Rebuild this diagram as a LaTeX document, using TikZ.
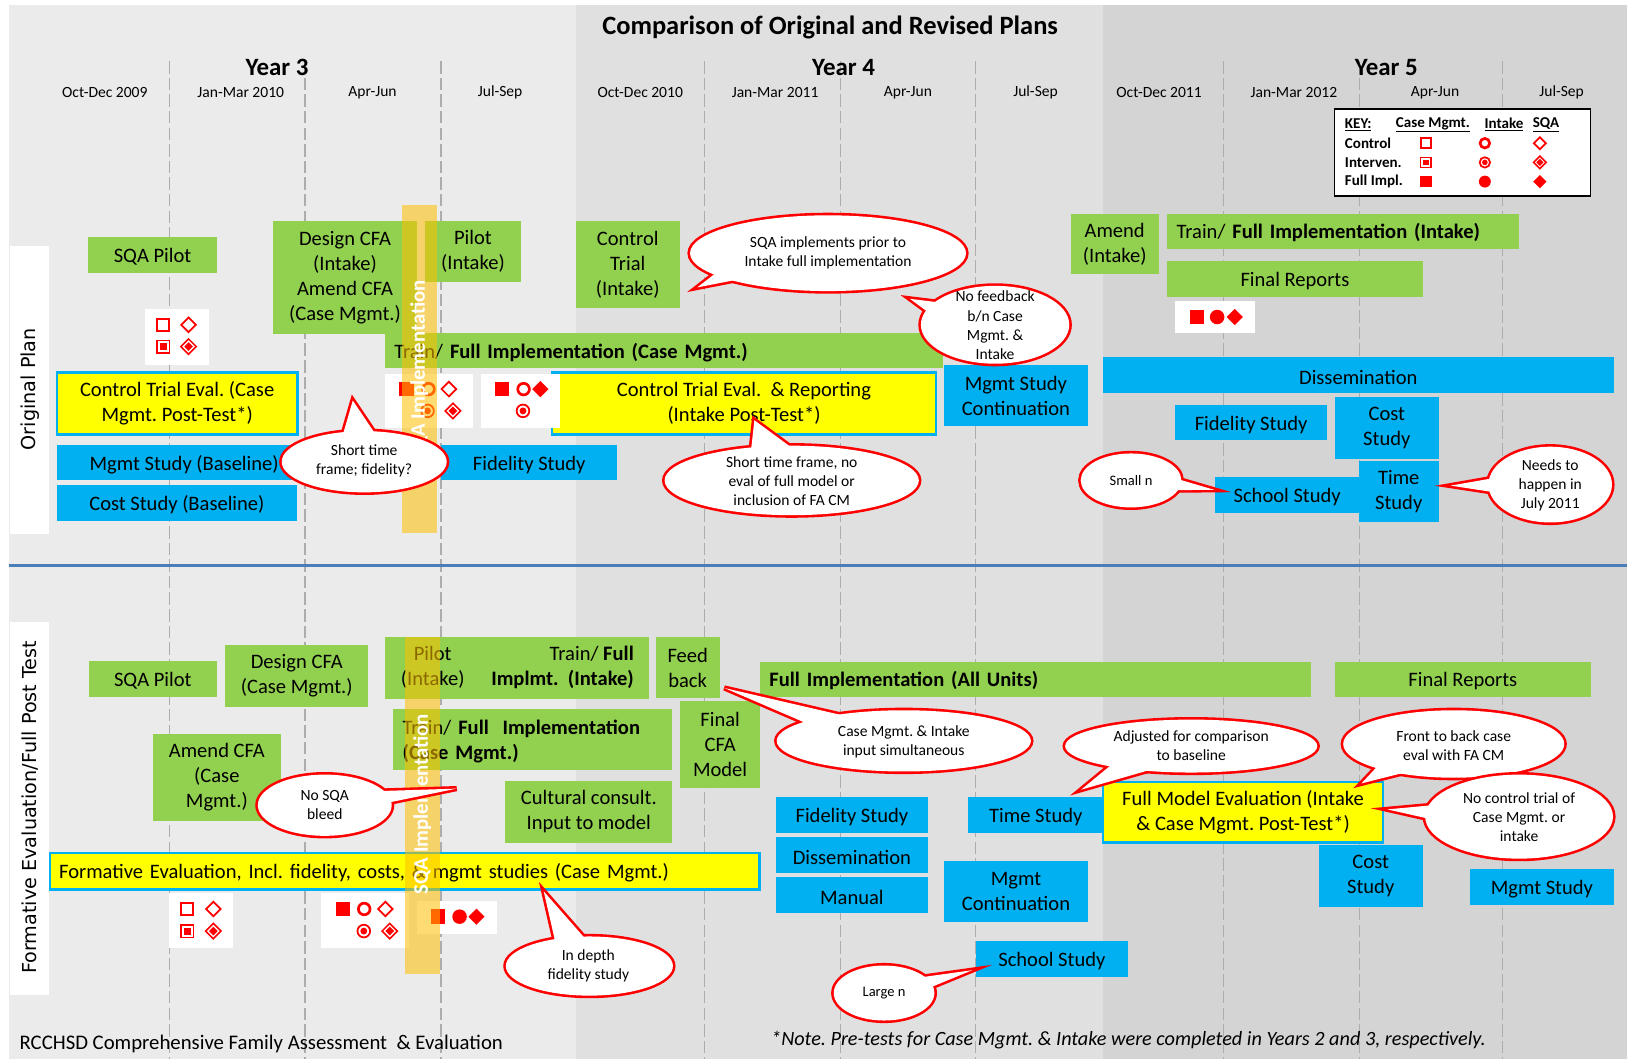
\documentclass[tikz,border=0pt]{standalone}
\usepackage{fontspec}
\setmainfont{Carlito}
\newfontfamily\dejav{DejaVu Sans}
\usetikzlibrary{calc}
\definecolor{grn}{HTML}{92D050}
\definecolor{blu}{HTML}{00B0F0}
\definecolor{yel}{HTML}{FFFF00}
\definecolor{bgA}{HTML}{EBEBEB}
\definecolor{bgB}{HTML}{E0E0E0}
\definecolor{bgC}{HTML}{D4D4D4}
\definecolor{divl}{HTML}{4A7EBB}
\definecolor{dashc}{HTML}{ADADAD}
\definecolor{stripec}{HTML}{FFC000}
\definecolor{redc}{HTML}{FF0000}
\tikzset{
 boxbase/.style={inner sep=0pt, align=center, font=\fontsize{19.8}{24}\selectfont, execute at begin node={\rule{0pt}{18pt}}},
 gbox/.style={boxbase, fill=grn},
 bbox/.style={boxbase, fill=blu},
 ybox/.style={boxbase, fill=yel, draw=blu, line width=2.5pt},
 keybox/.style={inner sep=0pt, fill=white, draw=black, line width=1.2pt},
 dashln/.style={draw=dashc, line width=1.2pt, dash pattern=on 12pt off 4pt},
 qlab/.style={inner sep=0pt, font=\fontsize{15}{18}\selectfont},
 ylab/.style={inner sep=0pt, font=\bfseries\fontsize{24}{28}\selectfont},
 sidelab/.style={inner sep=0pt, rotate=90, font=\dejav\fontsize{18.5}{22}\selectfont},
 stripe/.style={fill=stripec, fill opacity=0.55},
 stripetxt/.style={inner sep=0pt, rotate=90, text=white, font=\bfseries\fontsize{20}{24}\selectfont},
 cstroke/.style={draw=redc, line width=5pt},
 ctext/.style={inner sep=0pt, align=center, font=\fontsize{15}{18.5}\selectfont},
 ctexts/.style={inner sep=0pt, align=center, font=\fontsize{14}{17}\selectfont},
 keytxt/.style={inner sep=0pt, font=\bfseries\fontsize{14.5}{17}\selectfont},
 symst/.style={draw=redc, line width=1.8pt},
}
\newcommand\bx[7]{\pgfmathsetmacro\bxw{#5-#3}\pgfmathsetmacro\bxh{#6-#4}\pgfmathsetmacro\bxcx{(#3+#5)/2}\pgfmathsetmacro\bxcy{(#4+#6)/2}\node[#1, minimum width=\bxw pt, minimum height=\bxh pt] (#2) at (\bxcx,\bxcy) {#7};}
\newcommand\bxl[7]{\pgfmathsetmacro\bxw{#5-#3-18}\pgfmathsetmacro\bxh{#6-#4}\pgfmathsetmacro\bxcx{(#3+#5)/2}\pgfmathsetmacro\bxcy{(#4+#6)/2}\node[#1, align=left, inner xsep=9pt, text width=\bxw pt, minimum height=\bxh pt] (#2) at (\bxcx,\bxcy) {#7};}
\newcommand\callout[9]{%
 \coordinate (#1) at (#2,#3);
 \coordinate (#1-tip) at (#6,#7);
 \coordinate (#1-b1) at ({#2+0.86*#4*cos(#8)},{#3-0.86*#5*sin(#8)});
 \coordinate (#1-b2) at ({#2+0.86*#4*cos(#9)},{#3-0.86*#5*sin(#9)});
 \draw[cstroke] (#1) ellipse[x radius=#4, y radius=#5];
 \draw[cstroke] (#1-b1) -- (#1-tip) -- (#1-b2) -- cycle;
 \fill[white] (#1) ellipse[x radius=#4, y radius=#5];
 \fill[white] (#1-b1) -- (#1-tip) -- (#1-b2) -- cycle;}
\def\ssc{1}
\newcommand\SqO[2]{\begin{scope}[shift={(#1,#2)},scale=\ssc]\draw[symst] (-5.9,-5.9) rectangle (5.9,5.9);\end{scope}}
\newcommand\SqI[2]{\begin{scope}[shift={(#1,#2)},scale=\ssc]\draw[symst,line width=1.5pt] (-6,-6) rectangle (6,6);\fill[redc] (-3.4,-3.4) rectangle (3.4,3.4);\end{scope}}
\newcommand\SqF[2]{\begin{scope}[shift={(#1,#2)},scale=\ssc]\fill[redc] (-6.9,-6.9) rectangle (6.9,6.9);\end{scope}}
\newcommand\CiO[2]{\begin{scope}[shift={(#1,#2)},scale=\ssc]\draw[symst,line width=2.6pt] (0,0) circle[radius=5.6];\end{scope}}
\newcommand\CiI[2]{\begin{scope}[shift={(#1,#2)},scale=\ssc]\draw[symst,line width=1.7pt] (0,0) circle[radius=6.1];\fill[redc] (0,0) circle[radius=3.3];\end{scope}}
\newcommand\CiF[2]{\begin{scope}[shift={(#1,#2)},scale=\ssc]\fill[redc] (0,0) circle[radius=7];\end{scope}}
\newcommand\DiO[2]{\begin{scope}[shift={(#1,#2)},scale=\ssc]\draw[symst,line width=1.7pt] (-7,0)--(0,-7)--(7,0)--(0,7)--cycle;\end{scope}}
\newcommand\DiI[2]{\begin{scope}[shift={(#1,#2)},scale=\ssc]\draw[symst,line width=1.5pt] (-7.4,0)--(0,-7.4)--(7.4,0)--(0,7.4)--cycle;\fill[redc] (-4.2,0)--(0,-4.2)--(4.2,0)--(0,4.2)--cycle;\end{scope}}
\newcommand\DiF[2]{\begin{scope}[shift={(#1,#2)},scale=\ssc]\fill[redc] (-7.8,0)--(0,-7.8)--(7.8,0)--(0,7.8)--cycle;\end{scope}}
\begin{document}
\frenchspacing
\begin{tikzpicture}[x=1pt,y=-1pt]
\useasboundingbox (0,0) rectangle (1568,1021);
\fill[white] (0,0) rectangle (1568,1021);
% backgrounds
\fill[bgA] (9,5) rectangle (555,1021);
\fill[bgB] (555,5) rectangle (1063,1021);
\fill[bgC] (1063,5) rectangle (1568,1021);
\foreach \xx in {163,294,425,679,810,940,1179,1310,1448} \draw[dashln] (\xx,59) -- (\xx,1021);
\draw[divl, line width=3pt] (9,545) -- (1568,545);
\fill[white] (10,237) rectangle (47,515);
\fill[white] (10,599) rectangle (47,959);
\node[sidelab] (lab1) at (29,375) {Original Plan};
\node[sidelab] (lab2) at (29,778) {Formative Evaluation/Full Post Test};
% header
\node[inner sep=0pt, font=\bfseries\fontsize{25.5}{30}\selectfont] (title) at (800,26) {Comparison of Original and Revised Plans};
\node[ylab] (y3) at (267,65) {Year 3};
\node[ylab] (y4) at (813,65) {Year 4};
\node[ylab] (y5) at (1336,65) {Year 5};
\node[qlab] (q1) at (101,89) {Oct-Dec 2009};
\node[qlab] (q2) at (232,89) {Jan-Mar 2010};
\node[qlab] (q3) at (359,89) {Apr-Jun};
\node[qlab] (q4) at (482,89) {Jul-Sep};
\node[qlab] (q5) at (617,89) {Oct-Dec 2010};
\node[qlab] (q6) at (747,89) {Jan-Mar 2011};
\node[qlab] (q7) at (875,89) {Apr-Jun};
\node[qlab] (q8) at (998,89) {Jul-Sep};
\node[qlab] (q9) at (1117,89) {Oct-Dec 2011};
\node[qlab] (q10) at (1247,89) {Jan-Mar 2012};
\node[qlab] (q11) at (1383,89) {Apr-Jun};
\node[qlab] (q12) at (1505,89) {Jul-Sep};
% key
\bx{keybox}{key}{1286}{105}{1533}{189}{}
\node[keytxt, anchor=west] (kh) at (1296,120) {\underline{KEY:}};
\node[keytxt] (kcm) at (1381,120) {\underline{Case Mgmt.}};
\node[keytxt] (kin) at (1449.5,120) {\underline{Intake}};
\node[keytxt] (ksqa) at (1490,120) {\underline{SQA}};
\node[keytxt, anchor=west] (kr1) at (1296,138) {Control};
\node[keytxt, anchor=west] (kr2) at (1296,156.5) {Interven.};
\node[keytxt, anchor=west] (kr3) at (1296,175) {Full Impl.};
\def\ssc{0.82}
\SqO{1374}{138}\CiO{1431}{138}\DiO{1484}{138}
\SqI{1374}{156.5}\CiI{1431}{156.5}\DiI{1484}{156.5}
\SqF{1374}{175}\CiF{1431}{175}\DiF{1484}{175}
\def\ssc{1}
% ===== Original plan =====
\bx{gbox}{sqa1}{85}{228}{209}{263}{SQA Pilot}
\bx{gbox}{dcfa1}{263}{213}{402}{322}{Design CFA\\(Intake)\\Amend CFA\\(Case Mgmt.)}
\bx{gbox}{pil1}{409.5}{213}{502}{272}{Pilot\\(Intake)}
\bx{gbox}{ctr1}{555}{213}{655}{297}{Control\\Trial\\(Intake)}
\bxl{gbox}{tfi1}{371}{321}{909}{355}{Train/ \textbf{Full Implementation (Case Mgmt.)}}
\bx{gbox}{amd1}{1032}{206}{1116.5}{264.5}{Amend\\(Intake)}
\bxl{gbox}{tfi2}{1125}{206}{1463.5}{239.5}{Train/ \textbf{Full Implementation (Intake)}}
\bx{gbox}{frep1}{1125}{251.5}{1371}{286}{Final Reports}
\bx{ybox}{cte1}{55}{359}{286.5}{418.5}{Control Trial Eval. (Case\\Mgmt. Post-Test*)}
\bx{ybox}{cte2}{532}{359}{902}{418.5}{Control Trial Eval.\ \ \& Reporting\\(Intake Post-Test*)}
\bx{bbox}{mgb1}{55}{429}{300}{463}{Mgmt Study (Baseline)}
\bx{bbox}{csb1}{55}{467.5}{286}{502}{Cost Study (Baseline)}
\bx{bbox}{fid1}{425}{429}{595}{463}{Fidelity Study}
\bx{bbox}{mgc1}{909.5}{352}{1048.5}{411}{Mgmt Study\\Continuation}
\bx{bbox}{dis1}{1063}{344}{1555}{378.5}{Dissemination}
\bx{bbox}{fid2}{1132.5}{390.5}{1279}{424.5}{Fidelity Study}
\bx{bbox}{cst1}{1286.5}{382.5}{1386.5}{442}{Cost\\Study}
\bx{bbox}{sch1}{1171}{459.5}{1310}{494}{School Study}
\bx{bbox}{tim1}{1309.5}{444.5}{1386.5}{503.5}{Time\\Study}
% symbol panels (top)
\fill[white] (140,298) rectangle (201,351.5);
\SqO{157.3}{313}\DiO{181.7}{313}
\SqI{157.3}{334}\DiI{181.7}{334}
\fill[white] (371,360) rectangle (455.5,412);
\SqF{391.7}{375}\CiO{413}{375}\DiO{432.6}{375}
\CiI{412}{396}\DiI{436.5}{396}
\fill[white] (464,360) rectangle (540,412);
\SqF{484}{375}\CiO{504.6}{375}\DiF{520.7}{375}
\CiI{504}{396}
\fill[white] (1132.5,290.5) rectangle (1209,321);
\SqF{1153.3}{305.5}\CiF{1173}{305.5}\DiF{1190}{305.5}
% ===== Formative evaluation =====
\bx{gbox}{sqa2}{85.5}{637}{209}{671.5}{SQA Pilot}
\bx{gbox}{dcfa2}{217}{622}{355}{681}{Design CFA\\(Case Mgmt.)}
\bx{gbox}{ptr2}{371}{614}{625}{673.5}{}
\node[boxbase] (ptr2a) at (417,643) {Pilot\\(Intake)};
\node[boxbase, align=right, anchor=east] (ptr2b) at (611,643) {Train/ \textbf{Full}\\\textbf{Implmt.\ \ (Intake)}};
\bx{gbox}{fdb2}{632}{614}{693.5}{673}{Feed\\back}
\bxl{gbox}{tfi3}{379}{683.5}{648}{742.5}{Train/ \textbf{Full\ \ Implementation}\\\textbf{(Case Mgmt.)}}
\bx{gbox}{fcfa2}{655.5}{676}{732.5}{759.5}{Final\\CFA\\Model}
\bx{gbox}{cul2}{487}{753}{648}{812}{Cultural consult.\\Input to model}
\bx{gbox}{acfa2}{147}{707}{271}{791}{Amend CFA\\(Case\\Mgmt.)}
\bxl{gbox}{fiau2}{732.5}{637.5}{1263.5}{671.5}{\textbf{Full Implementation (All Units)}}
\bx{gbox}{frep2}{1286.5}{637.5}{1533}{671.5}{Final Reports}
\bxl{ybox}{fev2}{48}{822}{732}{857}{Formative Evaluation, Incl. fidelity, costs, \& mgmt studies (Case Mgmt.)}
\bx{bbox}{fid3}{748}{768}{894}{802.5}{Fidelity Study}
\bx{bbox}{dis3}{748}{806.7}{894}{841}{Dissemination}
\bx{bbox}{man3}{748}{845.2}{894}{879.6}{Manual}
\bx{bbox}{tim3}{933}{768}{1063.5}{802.5}{Time Study}
\bx{ybox}{fme3}{1063}{753.5}{1333}{812}{Full Model Evaluation (Intake\\\& Case Mgmt. Post-Test*)}
\bx{bbox}{mgc3}{909.8}{829.8}{1048.5}{889}{Mgmt\\Continuation}
\bx{bbox}{sch3}{940.5}{907}{1087}{941.3}{School Study}
\bx{bbox}{cst3}{1271}{814.4}{1371}{873.8}{Cost\\Study}
\bx{bbox}{mgs3}{1416.7}{837.5}{1555.2}{872.2}{Mgmt Study}
% symbol panels (bottom)
\fill[white] (163,860.6) rectangle (224.6,913.6);
\SqO{180.4}{876}\DiO{205.6}{876}
\SqI{180.4}{897.3}\DiI{205.6}{897.3}
\fill[white] (309,860.6) rectangle (394,913.6);
\SqF{330.3}{876}\CiO{351}{876}\DiO{371.4}{876}
\CiI{350.6}{897.3}\DiI{375.6}{897.3}
\fill[white] (402,868) rectangle (479,900);
\SqF{422.4}{883.4}\CiF{442.9}{883.4}\DiF{459.2}{883.4}
% SQA implementation stripes
\fill[stripe] (387,198) rectangle (421,514);
\node[stripetxt] (sqaimp1) at (404,357) {SQA Implementation};
\fill[stripe] (390,614) rectangle (424,939);
\node[stripetxt] (sqaimp2) at (407,775) {SQA Implementation};
% callouts (top)
\callout{c1}{798}{244}{133}{36.5}{672}{277}{207}{228}
\node[ctext] (c1t) at (798,244) {SQA implements prior to\\Intake full implementation};
\callout{c2}{959}{313}{71.5}{37.5}{877}{288}{140}{165}
\node[ctext] (c2t) at (959,313.5) {No feedback\\b/n Case\\Mgmt. \&\\Intake};
\callout{c3}{351}{445}{79.5}{29.5}{340}{386}{108}{80}
\node[ctext] (c3t) at (351,444) {Short time\\frame; fidelity?};
\callout{c4}{763}{463}{122.5}{33.5}{727}{405}{112}{88}
\node[ctext] (c4t) at (763,463.5) {Short time frame, no\\eval of full model or\\inclusion of FA CM};
\callout{c5}{1090}{463}{48.5}{26}{1170}{472}{6}{-25}
\node[ctexts] (c5t) at (1090,463) {Small n};
\callout{c6}{1494}{467}{59.5}{36.5}{1398}{468}{167}{195}
\node[ctext] (c6t) at (1494,467.5) {Needs to\\happen in\\July 2011};
% callouts (bottom)
\callout{c7}{313}{776}{64.5}{29.5}{440}{760}{32}{3}
\node[ctext] (c7t) at (313,776) {No SQA\\bleed};
\callout{c8}{871}{714}{122.5}{29.5}{698}{663}{146}{118}
\node[ctext] (c8t) at (871,715) {Case Mgmt. \& Intake\\input simultaneous};
\callout{c9}{1148}{719}{121.5}{25.5}{1042}{761}{225}{252}
\node[ctext] (c9t) at (1148,718.5) {Adjusted for comparison\\to baseline};
\callout{c10}{1401}{717}{106.5}{32.5}{1312}{755}{220}{245}
\node[ctext] (c10t) at (1401,718.5) {Front to back case\\eval with FA CM};
\callout{c11}{1464}{787}{90.5}{40.5}{1337}{780}{160}{187}
\node[ctext] (c11t) at (1464,787.5) {No control trial of\\Case Mgmt. or\\intake};
\callout{c12}{568}{931}{80.5}{28.5}{524}{859}{118}{92}
\node[ctext] (c12t) at (567,931) {In depth\\fidelity study};
\callout{c13}{852}{957}{48.5}{26.5}{937}{935}{40}{10}
\node[ctexts] (c13t) at (852,957) {Large n};
% footer
\node[inner sep=0pt, anchor=west, font=\fontsize{20}{24}\selectfont] (foot) at (18.7,1006) {RCCHSD Comprehensive Family Assessment\ \ \& Evaluation};
\node[inner sep=0pt, anchor=west, font=\itshape\fontsize{19.5}{24}\selectfont] (note) at (743,1002) {*Note. Pre-tests for Case Mgmt. \& Intake were completed in Years 2 and 3, respectively.};
\end{tikzpicture}
\end{document}
